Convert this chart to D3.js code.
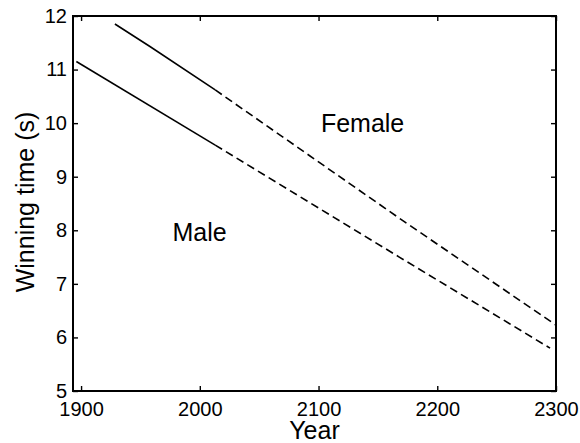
<!DOCTYPE html>
<html>
<head>
<meta charset="utf-8">
<script src="https://cdn.jsdelivr.net/npm/d3@7/dist/d3.min.js"></script>
<style>
  html, body { margin: 0; padding: 0; background: #fff; }
  svg { display: block; }
  text { font-family: "Liberation Sans", Arial, Helvetica, sans-serif; fill: #000; }
</style>
</head>
<body>
<svg id="chart" width="580" height="443"></svg>
<script>
// Winning times of the Olympic 100 m sprint: fitted trends (solid) and their projections (dashed)
const xTicks = [1900, 2000, 2100, 2200, 2300];
const yTicks = [5, 6, 7, 8, 9, 10, 11, 12];

const maleFitYears = [1896, 2013];
const maleFitTimes = [11.15, 9.59];
const maleProjYears = [2013, 2168, 2295];
const maleProjTimes = [9.59, 7.50, 5.80];

const femaleFitYears = [1928.5, 1958, 2013];
const femaleFitTimes = [11.85, 11.43, 10.62];
const femaleProjYears = [2013, 2171, 2300];
const femaleProjTimes = [10.62, 8.18, 6.23];

const labels = [
  { text: "Female", year: 2102, time: 9.84 },
  { text: "Male", year: 1977, time: 7.80 }
];

const svg = d3.select("#chart");
const m = { left: 73, right: 556, top: 16, bottom: 391 };

const x = d3.scaleLinear().domain([1893.2, 2300]).range([m.left, m.right]);
const y = d3.scaleLinear().domain([5, 12]).range([m.bottom, m.top]);

const line = d3.line().x(d => x(d[0])).y(d => y(d[1]));
const pts = (ys, vs) => ys.map((v, i) => [v, vs[i]]);

const plot = svg.append("g");

// solid fitted segments
[[maleFitYears, maleFitTimes], [femaleFitYears, femaleFitTimes]].forEach(([ys, vs]) => {
  plot.append("path")
    .attr("d", line(pts(ys, vs)))
    .attr("fill", "none").attr("stroke", "#000").attr("stroke-width", 1.6);
});

// dashed projections
[[maleProjYears, maleProjTimes], [femaleProjYears, femaleProjTimes]].forEach(([ys, vs]) => {
  plot.append("path")
    .attr("d", line(pts(ys, vs)))
    .attr("fill", "none").attr("stroke", "#000").attr("stroke-width", 1.6)
    .attr("stroke-dasharray", "8,4.5");
});

// axes with inward ticks on all four sides
const tickLen = 5;
const axisStyle = g => {
  g.select(".domain").remove();
  g.selectAll(".tick line").attr("stroke", "#000").attr("stroke-width", 1.4);
};

svg.append("g").attr("transform", `translate(0,${m.bottom})`)
  .call(d3.axisBottom(x).tickValues(xTicks).tickSize(-tickLen).tickPadding(11).tickFormat(d3.format("d")))
  .call(axisStyle)
  .call(g => g.selectAll("text").attr("font-size", 20));

svg.append("g").attr("transform", `translate(0,${m.top})`)
  .call(d3.axisTop(x).tickValues(xTicks).tickSize(-tickLen).tickFormat(""))
  .call(axisStyle);

svg.append("g").attr("transform", `translate(${m.left},0)`)
  .call(d3.axisLeft(y).tickValues(yTicks).tickSize(-tickLen).tickPadding(6).tickFormat(d3.format("d")))
  .call(axisStyle)
  .call(g => g.selectAll("text").attr("font-size", 20));

svg.append("g").attr("transform", `translate(${m.right},0)`)
  .call(d3.axisRight(y).tickValues(yTicks).tickSize(-tickLen).tickFormat(""))
  .call(axisStyle);

// frame
svg.append("rect")
  .attr("x", m.left).attr("y", m.top)
  .attr("width", m.right - m.left).attr("height", m.bottom - m.top)
  .attr("fill", "none").attr("stroke", "#000").attr("stroke-width", 2);

// axis titles
svg.append("text")
  .attr("x", (m.left + m.right) / 2).attr("y", 439)
  .attr("text-anchor", "middle").attr("font-size", 25)
  .text("Year");

svg.append("text")
  .attr("transform", `translate(34,202) rotate(-90)`)
  .attr("text-anchor", "middle").attr("font-size", 25)
  .text("Winning time (s)");

// series labels
labels.forEach(l => {
  svg.append("text")
    .attr("x", x(l.year)).attr("y", y(l.time))
    .attr("text-anchor", "start").attr("font-size", 25)
    .text(l.text);
});
</script>
</body>
</html>
